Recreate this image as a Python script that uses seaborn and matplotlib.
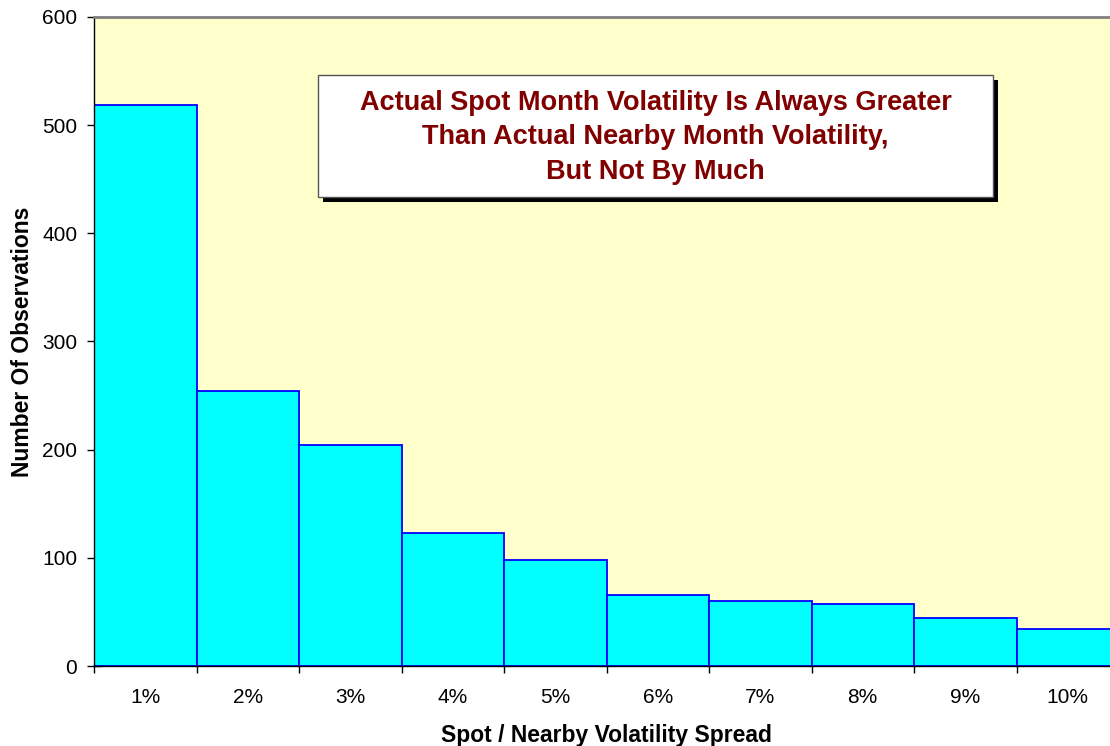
import matplotlib
matplotlib.use("Agg")
import matplotlib.pyplot as plt
import seaborn as sns
import pandas as pd
from matplotlib.patches import Rectangle

categories = ["1%", "2%", "3%", "4%", "5%", "6%", "7%", "8%", "9%", "10%"]
observations = [519, 254, 204, 123, 98, 66, 60, 57, 44, 34]
y_ticks = [0, 100, 200, 300, 400, 500, 600]
title_lines = ["Actual Spot Month Volatility Is Always Greater",
               "Than Actual Nearby Month Volatility,",
               "But Not By Much"]

sns.set_theme(style="white")
plt.rcParams['font.family'] = ['Liberation Sans', 'DejaVu Sans']
plt.rcParams['text.color'] = 'black'
plt.rcParams['axes.labelcolor'] = 'black'

df = pd.DataFrame({"spread": categories, "obs": observations})

W, H = 1110, 746
fig = plt.figure(figsize=(W / 100, H / 100), dpi=100)
ax = fig.add_axes([94 / W, (H - 666) / H, 1025 / W, 649 / H])
ax.set_facecolor("#FFFFCC")

sns.barplot(data=df, x="spread", y="obs", ax=ax, width=1.0,
            color="#00FFFF", saturation=1, edgecolor="#0000FF", linewidth=1.3)
for p in ax.patches:
    p.set_facecolor("#00FFFF")

ax.set_xlim(-0.5, len(categories) - 0.5)
ax.set_ylim(0, 600)
ax.set_yticks(y_ticks)
ax.set_yticklabels([str(v) for v in y_ticks], fontsize=15, color="black")

ax.set_xticks([i - 0.5 for i in range(len(categories) + 1)])
ax.set_xticklabels([])
ax.set_xticks(range(len(categories)), minor=True)
ax.set_xticklabels(categories, minor=True, fontsize=15, color="black")
ax.tick_params(axis="x", which="major", direction="out", length=5, width=1, color="black", bottom=True)
ax.tick_params(axis="x", which="minor", length=0, pad=16, bottom=True)
ax.tick_params(axis="y", which="major", direction="inout", length=10, width=1, color="black", left=True, pad=7)

for s in ["left", "bottom"]:
    ax.spines[s].set_color("black")
    ax.spines[s].set_linewidth(1)
ax.spines["top"].set_color("#808080")
ax.spines["top"].set_linewidth(2)
ax.spines["right"].set_color("#808080")

ax.set_xlabel("Spot / Nearby Volatility Spread", fontsize=16.5, fontweight="bold",
              labelpad=12, color="black")
ax.set_ylabel("Number Of Observations", fontsize=16.5, fontweight="bold",
              labelpad=6, color="black")

# title box with shadow (figure pixel coordinates)
bx0, by0, bx1, by1 = 318, 75, 993, 197
shadow = Rectangle((bx0 + 5, H - by1 - 5), bx1 - bx0, by1 - by0,
                   transform=None, facecolor="black", edgecolor="none", zorder=5)
box = Rectangle((bx0, H - by1), bx1 - bx0, by1 - by0,
                transform=None, facecolor="white", edgecolor="#555555", linewidth=1, zorder=6)
fig.patches.extend([shadow, box])
line_y = [103, 137, 172]
for t, yy in zip(title_lines, line_y):
    fig.text((bx0 + bx1) / 2 / W, 1 - yy / H, t, ha="center", va="center",
             fontsize=19.5, fontweight="bold", color="#800000", zorder=7)

fig.savefig("out.png", dpi=100)
